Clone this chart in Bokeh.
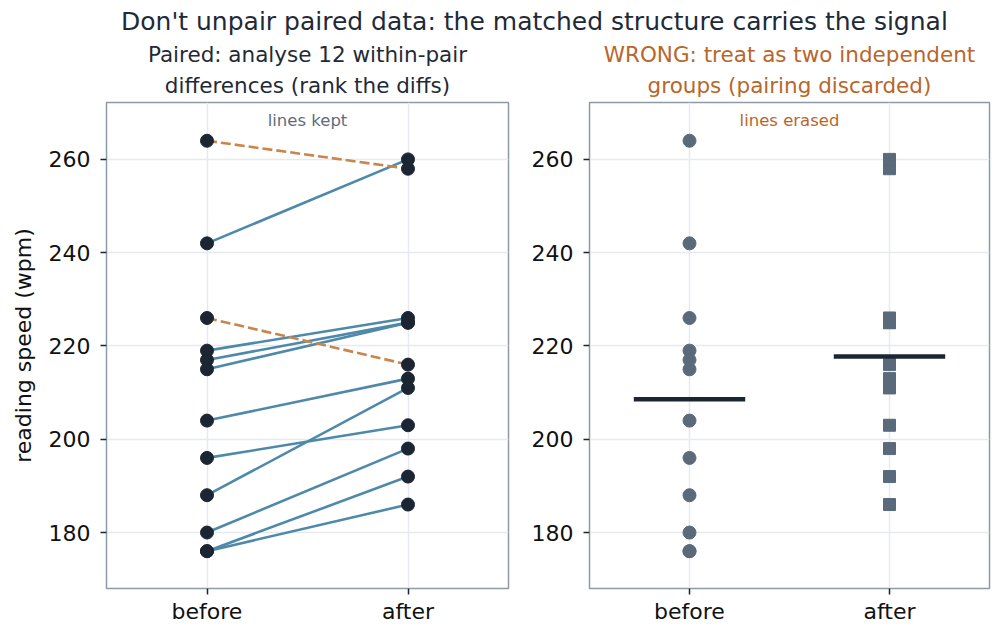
from bokeh.plotting import figure
from bokeh.models import FactorRange, Range1d, FixedTicker, Label, Div, Title
from bokeh.layouts import column, row
from bokeh.embed import file_html
from bokeh.resources import INLINE

# ---- data -------------------------------------------------------------
conditions = ["before", "after"]
before_wpm = [264, 242, 226, 219, 217, 215, 204, 196, 188, 180, 176, 176]
after_wpm = [258, 260, 216, 226, 225, 225, 213, 203, 211, 198, 192, 186]
y_ticks = [180, 200, 220, 240, 260]

main_title = "Don't unpair paired data: the matched structure carries the signal"
left_title = ["Paired: analyse 12 within-pair", "differences (rank the diffs)"]
right_title = ["WRONG: treat as two independent", "groups (pairing discarded)"]
left_note = "lines kept"
right_note = "lines erased"
y_label = "reading speed (wpm)"

# ---- style ------------------------------------------------------------
FONT = "DejaVu Sans"
INK = "#1b2632"
SLATE = "#5a6a7a"
BLUE = "#4f89a9"
ORANGE_LINE = "#c8864c"
ORANGE_TEXT = "#b8662a"
GREY_TEXT = "#5e6d7c"
TITLE_INK = "#1f2a37"
FRAME = "#8e9aa6"
GRID = "#e6e9ee"

Y_LO, Y_HI = 168.0, 272.2


def style_title(t, color):
    t.align = "center"
    t.text_font = FONT
    t.text_font_size = "21.5px"
    t.text_font_style = "normal"
    t.text_color = color


def base_figure(width, border_left, border_right, title_lines, title_color):
    p = figure(
        width=width, height=599,
        x_range=FactorRange(*conditions, range_padding=0),
        y_range=Range1d(Y_LO, Y_HI),
        output_backend="svg", toolbar_location=None,
        min_border_left=border_left, min_border_right=border_right,
        min_border_top=60, min_border_bottom=52,
        title=title_lines[0],
    )
    # two centred title lines; the added one sits next to the frame
    style_title(p.title, title_color)
    p.title.standoff = -3
    lower = Title(text=title_lines[1])
    style_title(lower, title_color)
    lower.standoff = 10
    p.add_layout(lower, "above")

    p.outline_line_color = FRAME
    p.outline_line_width = 1.5
    p.background_fill_color = "white"
    p.border_fill_color = "white"
    for g in (p.xgrid, p.ygrid):
        g.grid_line_color = GRID
        g.grid_line_width = 1.5
    p.yaxis.ticker = FixedTicker(ticks=y_ticks)
    for ax in (p.xaxis, p.yaxis):
        ax.axis_line_color = None
        ax.major_tick_line_color = INK
        ax.major_tick_line_width = 1.5
        ax.major_tick_out = 6
        ax.major_tick_in = 0
        ax.minor_tick_line_color = None
        ax.major_label_text_font = FONT
        ax.major_label_text_font_size = "22px"
        ax.major_label_text_color = "#111111"
    p.yaxis.major_label_standoff = 10
    p.xaxis.major_label_standoff = 4
    return p


# ---- left: paired view ------------------------------------------------
p1 = base_figure(528, 106, 20, left_title, TITLE_INK)
p1.yaxis.axis_label = y_label
p1.yaxis.axis_label_text_font = FONT
p1.yaxis.axis_label_text_font_size = "22px"
p1.yaxis.axis_label_text_font_style = "normal"
p1.yaxis.axis_label_text_color = "#111111"
p1.yaxis.axis_label_standoff = 10

up = [i for i in range(len(before_wpm)) if after_wpm[i] >= before_wpm[i]]
down = [i for i in range(len(before_wpm)) if after_wpm[i] < before_wpm[i]]

p1.segment(x0=["before"] * len(up), y0=[before_wpm[i] for i in up],
           x1=["after"] * len(up), y1=[after_wpm[i] for i in up],
           line_color=BLUE, line_width=2.6)
p1.segment(x0=["before"] * len(down), y0=[before_wpm[i] for i in down],
           x1=["after"] * len(down), y1=[after_wpm[i] for i in down],
           line_color=ORANGE_LINE, line_width=2.6, line_dash="10 4")
p1.scatter(x=["before"] * len(before_wpm), y=before_wpm, size=13,
           color=INK, line_color=INK)
p1.scatter(x=["after"] * len(after_wpm), y=after_wpm, size=13,
           color=INK, line_color=INK)
p1.add_layout(Label(x=1.0, y=Y_HI, y_offset=-18, text=left_note,
                    text_align="center", text_baseline="middle",
                    text_font=FONT, text_font_size="16.5px",
                    text_color=GREY_TEXT))

# ---- right: pairing discarded ------------------------------------------
p2 = base_figure(476, 59, 15, right_title, ORANGE_TEXT)

p2.scatter(x=["before"] * len(before_wpm), y=before_wpm, size=13,
           marker="circle", color=SLATE, line_color=SLATE)
p2.scatter(x=["after"] * len(after_wpm), y=after_wpm, size=12,
           marker="square", color=SLATE, line_color=SLATE)

group_means = [sum(before_wpm) / len(before_wpm), sum(after_wpm) / len(after_wpm)]
p2.rect(x=conditions, y=group_means, width=0.557, height=4.5,
        height_units="screen", color=INK, line_color=None)
p2.add_layout(Label(x=1.0, y=Y_HI, y_offset=-18, text=right_note,
                    text_align="center", text_baseline="middle",
                    text_font=FONT, text_font_size="16.5px",
                    text_color=ORANGE_TEXT))

header = Div(
    text=main_title, width=1004, height=41, margin=(0, 0, 0, 0),
    styles={"font-family": FONT, "font-size": "25px", "color": TITLE_INK,
            "line-height": "44px", "padding-left": "121px",
            "white-space": "nowrap"},
)

layout = column(header, row(p1, p2, spacing=0), spacing=0)

with open("out.html", "w") as f:
    f.write(file_html(layout, INLINE))
